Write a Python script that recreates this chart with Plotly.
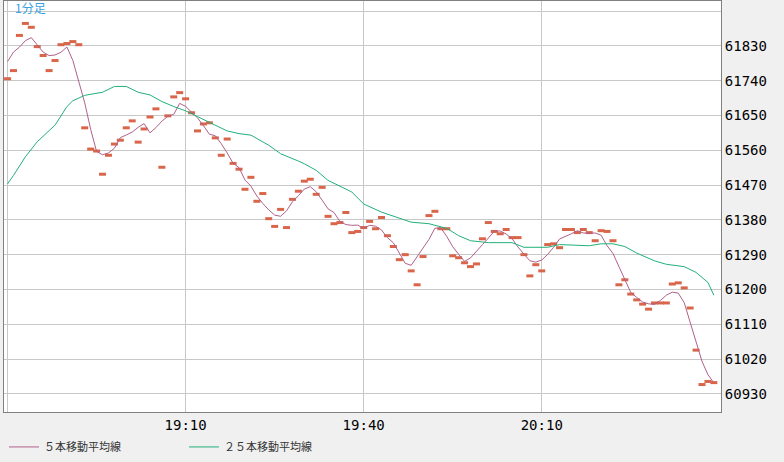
import plotly.graph_objects as go
import pandas as pd

start = pd.Timestamp("2024-01-01 18:40")
price = [61745,61766,61857,61888,61878,61828,61805,61766,61792,61833,
         61836,61841,61833,61618,61563,61558,61498,61547,61576,61586,
         61618,61636,61581,61615,61646,61667,61516,61649,61698,61709,
         61693,61657,61610,61628,61631,61592,61547,61589,61526,61511,
         61459,61490,61428,61448,61383,61363,61407,61360,61433,61454,
         61480,61485,61446,61464,61389,61370,61373,61399,61347,61350,
         61360,61376,61357,61386,61339,61311,61277,61290,61248,61212,
         61285,61391,61402,61357,61357,61287,61282,61269,61259,61266,
         61331,61373,61350,61344,61355,61334,61334,61290,61235,61264,
         61248,61316,61318,61308,61355,61355,61347,61355,61347,61326,
         61352,61350,61326,61212,61225,61188,61173,61162,61149,61165,
         61165,61165,61214,61217,61204,61152,61043,60954,60962,60959]
ma25_idx = [0,1,3,5,8,10,11,13,16,18,20,22,24,26,28,30,32,35,37,39,41,44,46,49,50,52,
            54,58,60,63,65,68,71,74,76,78,81,85,87,91,93,98,100,102,104,106,109,111,114,116,118,119]
ma25_val = [61473,61495,61543,61582,61625,61673,61688,61702,61710,61725,61725,61710,61703,61686,
            61673,61662,61647,61626,61610,61603,61599,61573,61551,61532,61525,61508,61482,61452,
            61421,61400,61389,61374,61370,61358,61339,61326,61321,61321,61309,61309,61316,61313,
            61318,61318,61311,61294,61274,61265,61259,61244,61218,61185]

t = [start + pd.Timedelta(minutes=i) for i in range(len(price))]
ma5 = pd.Series(price).rolling(5, center=True, min_periods=1).mean()
t25 = [start + pd.Timedelta(minutes=i) for i in ma25_idx]

fig = go.Figure()
fig.add_trace(go.Scatter(x=t, y=price, mode="markers", showlegend=False,
    marker=dict(symbol="line-ew-open", size=5, color="#d9664a",
                line=dict(width=3, color="#d9664a"))))
fig.add_trace(go.Scatter(x=t, y=ma5, mode="lines", name="５本移動平均線",
    line=dict(color="#b0608a", width=1)))
fig.add_trace(go.Scatter(x=t25, y=ma25_val, mode="lines", name="２５本移動平均線",
    line=dict(color="#22b07a", width=1)))

ytv = list(range(60930, 61921, 90))
ytt = [str(v) for v in ytv[:-1]] + [""]
xtv = [start + pd.Timedelta(minutes=m) for m in (0, 30, 60, 90)]
xtt = ["", "19:10", "19:40", "20:10"]

fig.update_layout(
    width=784, height=462, margin=dict(l=4, r=63, t=1, b=50, autoexpand=False),
    paper_bgcolor="#f0f0f0", plot_bgcolor="white",
    font=dict(family="DejaVu Sans Mono", size=14, color="#000"),
    legend=dict(orientation="h", x=0.0, y=-0.085, yanchor="middle", xanchor="left",
                font=dict(size=11, color="#333", family="Noto Sans CJK JP"),
                entrywidth=135, bgcolor="rgba(0,0,0,0)"),
    annotations=[dict(text="1分足", x=0.012, y=0.985, xref="paper", yref="paper",
                      xanchor="left", yanchor="middle", showarrow=False,
                      font=dict(color="#3aa0e0", size=12, family="Noto Sans CJK JP"))],
)
fig.update_xaxes(range=[start - pd.Timedelta(seconds=36), start + pd.Timedelta(minutes=120, seconds=12)],
                 tickvals=xtv, ticktext=xtt, showgrid=True, gridcolor="#c8c8c8",
                 showline=True, linecolor="#808080", mirror=True, ticks="", zeroline=False)
fig.update_yaxes(range=[60883, 61946], side="right", tickvals=ytv, ticktext=ytt,
                 showgrid=True, gridcolor="#c8c8c8", showline=True, linecolor="#808080",
                 mirror=True, ticks="", zeroline=False)
fig.write_html("out.html", config={"displayModeBar": False},
               post_script="document.body.style.margin='0';document.body.style.background='#f0f0f0';")
